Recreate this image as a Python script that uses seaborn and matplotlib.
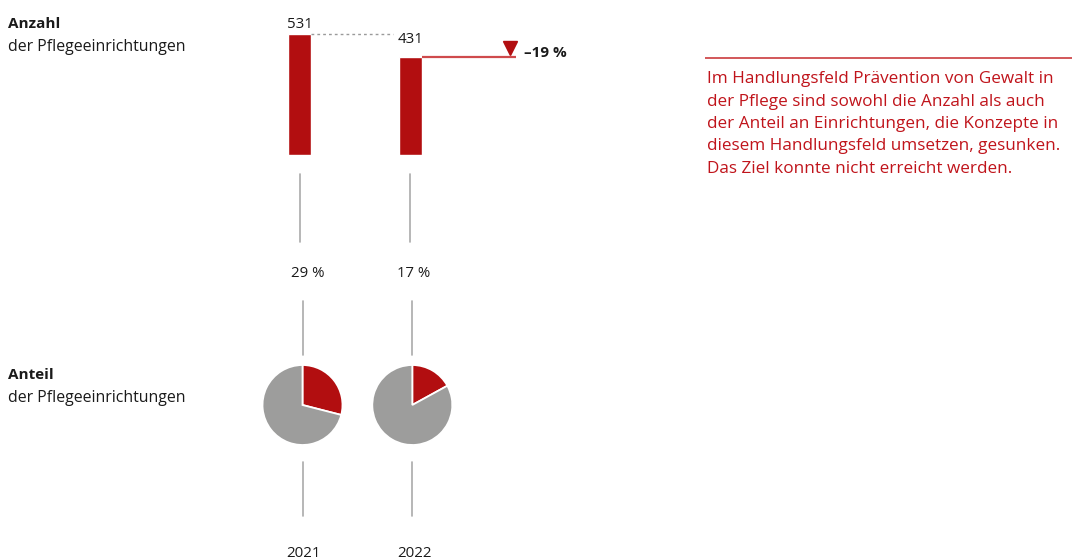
import matplotlib
matplotlib.use("Agg")
import matplotlib.pyplot as plt
import seaborn as sns

# ---- data -------------------------------------------------------------
years = ["2021", "2022"]
anzahl = [531, 431]            # Anzahl der Pflegeeinrichtungen
anteil = [29, 17]              # Anteil der Pflegeeinrichtungen in %
change_label = "–19 %"
note_lines = [
    "Im Handlungsfeld Prävention von Gewalt in",
    "der Pflege sind sowohl die Anzahl als auch",
    "der Anteil an Einrichtungen, die Konzepte in",
    "diesem Handlungsfeld umsetzen, gesunken.",
    "Das Ziel konnte nicht erreicht werden.",
]

# ---- style ------------------------------------------------------------
RED = "#B20E10"
RED_TEXT = "#C0141B"
RED_LINE = "#CF4A4C"
GREY = "#9D9D9C"
LINE_GREY = "#AAAAAA"
TXT = "#1A1A1A"

sns.set_theme(style="white")
plt.rcParams["font.family"] = ["Open Sans", "DejaVu Sans"]

W, H = 1072, 560
fig = plt.figure(figsize=(W / 100, H / 100), dpi=100)


def px_axes(left, top, width, height, **kw):
    """Add axes positioned in pixel units measured from the top-left corner."""
    return fig.add_axes([left / W, 1 - (top + height) / H, width / W, height / H], **kw)


# overlay in pixel coordinates for labels and guide lines
ov = px_axes(0, 0, W, H)
ov.set_xlim(0, W)
ov.set_ylim(H, 0)
ov.axis("off")

# ---- bars ---------------------------------------------------------------
SLOT = 111            # pixels between the two bars
BAR_W = 23 / SLOT
PX_PER_UNIT = 121 / 531
YMAX = 600
bar_left = 299.5 - SLOT / 2
bar_h = YMAX * PX_PER_UNIT
axb = px_axes(bar_left, 155 - bar_h, 4 * SLOT, bar_h)
axb.patch.set_alpha(0)
sns.barplot(x=years, y=anzahl, color=RED, saturation=1, width=BAR_W, ax=axb)
axb.set_xlim(-0.5, 3.5)
axb.set_ylim(0, YMAX)
axb.axis("off")

NUM_FS = 10.8
# value labels above the bars
label_offsets = [6, 14]
label_dx = [0, 0.5]
for i, (v, off, dx) in enumerate(zip(anzahl, label_offsets, label_dx)):
    axb.annotate(f"{v}", xy=(i, v), xytext=(dx, off), textcoords="offset pixels",
                 ha="center", va="baseline", fontsize=NUM_FS, color=TXT)

# reference line from the 2021 level and the 2022 level line
half = BAR_W / 2
axb.plot([0 + half, (393 - bar_left) / SLOT - 0.5], [anzahl[0]] * 2,
         color="#9A9A9A", lw=1, ls=(0, (2, 2.2)), solid_capstyle="butt")
axb.plot([1 + half, (516 - bar_left) / SLOT - 0.5], [anzahl[1]] * 2,
         color=RED_LINE, lw=1.6, solid_capstyle="butt")

# change marker and label
ov.plot([509.5], [47.5], marker="v", markersize=9.5, color=RED, mec=RED)
ov.text(524, 57, change_label, ha="left", va="baseline", fontsize=11,
        fontweight="bold", color=TXT)

# ---- connector lines ---------------------------------------------------
for x in (300, 409.5):
    ov.plot([x, x], [174, 242], color=LINE_GREY, lw=1.2)
for x in (303, 412.3):
    ov.plot([x, x], [301, 355], color=LINE_GREY, lw=1.2)
    ov.plot([x, x], [462, 516], color=LINE_GREY, lw=1.2)

# ---- share labels and pies -------------------------------------------------
pie_cx = [302.5, 412.3]
pct_cx = [307.5, 413.5]
year_cx = [303, 414]
R = 40
for i, a in enumerate(anteil):
    ov.text(pct_cx[i], 277, f"{a} %", ha="center", va="baseline", fontsize=NUM_FS, color=TXT)
    axp = px_axes(pie_cx[i] - R, 405 - R, 2 * R, 2 * R)
    axp.pie([a, 100 - a], colors=[RED, GREY], startangle=90, counterclock=False,
            wedgeprops=dict(edgecolor="white", linewidth=1.3))
    axp.set_xlim(-1, 1)
    axp.set_ylim(-1, 1)
    axp.set_aspect("equal")
    axp.axis("off")
    ov.text(year_cx[i], 557, years[i], ha="center", va="baseline", fontsize=NUM_FS, color=TXT)

# ---- row titles ----------------------------------------------------------
for top, title in ((28, "Anzahl"), (379, "Anteil")):
    ov.text(8, top, title, ha="left", va="baseline", fontsize=11, fontweight="bold", color=TXT)
    ov.text(8, top + 23, "der Pflegeeinrichtungen", ha="left", va="baseline",
            fontsize=11.4, color=TXT)

# ---- commentary ---------------------------------------------------------
ov.plot([705, W], [57.5, 57.5], color=RED_LINE, lw=1.3, solid_capstyle="butt")
for k, line in enumerate(note_lines):
    ov.text(707, 83.3 + 22.35 * k, line, ha="left", va="baseline",
            fontsize=12.3, color=RED_TEXT)

fig.savefig("out.png", dpi=100)
